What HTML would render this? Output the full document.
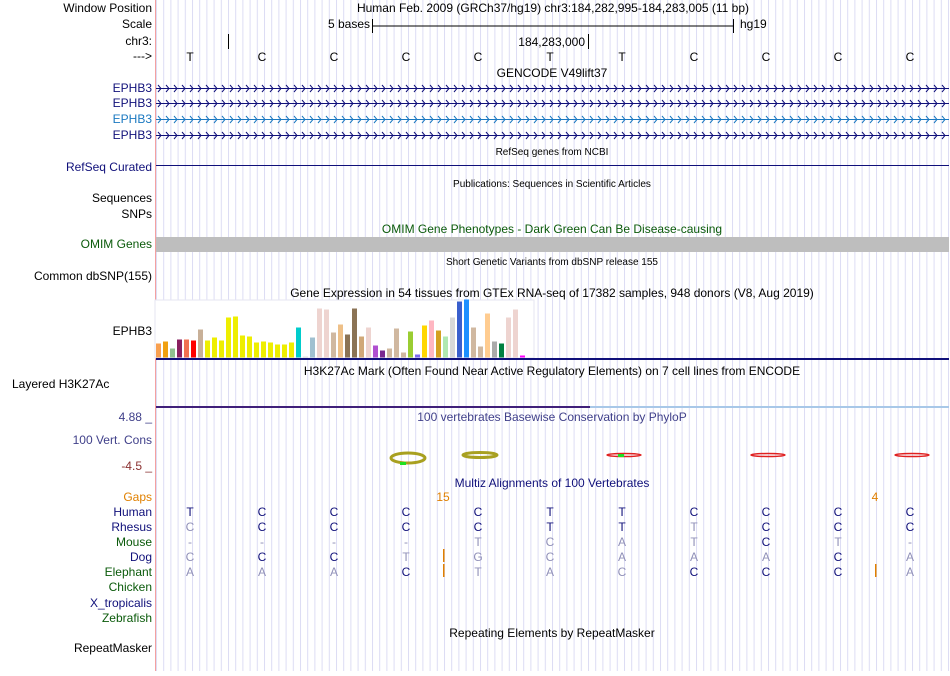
<!DOCTYPE html>
<html><head><meta charset="utf-8"><style>
body{margin:0;background:#fff}
svg text{font-family:"Liberation Sans",sans-serif}
</style></head><body>
<svg width="950" height="671" xmlns="http://www.w3.org/2000/svg">
<defs>
<pattern id="grid" x="156" y="0" width="7.2" height="671" patternUnits="userSpaceOnUse"><rect x="0" y="0" width="1" height="671" fill="#dcdcf4"/></pattern>
</defs>
<rect x="156" y="0" width="794" height="671" fill="url(#grid)"/>
<rect x="155" y="0" width="1" height="671" fill="#f4a0a0"/>
<g id="labels" font-size="12" text-anchor="end"></g>
<g id="tracks"></g>
</svg>
<script>
const NS="http://www.w3.org/2000/svg";
const L=document.getElementById('labels'), T=document.getElementById('tracks');
function el(tag,attrs,parent,txt){const e=document.createElementNS(NS,tag);for(const k in attrs)e.setAttribute(k,attrs[k]);if(txt!==undefined)e.textContent=txt;(parent||T).appendChild(e);return e;}
const labelTexts=["Window Position","Scale","chr3:","--->","EPHB3","EPHB3","EPHB3","EPHB3","RefSeq Curated","Sequences","SNPs","OMIM Genes","Common dbSNP(155)","EPHB3","100 Vert. Cons","Gaps","Human","Rhesus","Mouse","Dog","Elephant","Chicken","X_tropicalis","Zebrafish","RepeatMasker"];
const labelY=[12,28,45,60,92,107,123,139,171,202,218,248,280,335,444,501,516,531,546,561,576,591,607,622,652];
const labelCol=["#000","#000","#000","#000","#10107a","#10107a","#1a78c0","#10107a","#10107a","#000","#000","#0a5a0a","#000","#000","#40408a","#e08000","#10107a","#10107a","#0a5a0a","#10107a","#0a5a0a","#0a5a0a","#10107a","#0a5a0a","#000"];
for(let i=0;i<labelTexts.length;i++){
  const t=el('text',{x:152,y:labelY[i],fill:labelCol[i]},L,labelTexts[i]);
  
  
}
const lh=el('text',{x:12,y:388,'font-size':12,fill:'#000'},T,'Layered H3K27Ac');


const titles=[["Human Feb. 2009 (GRCh37/hg19)   chr3:184,282,995-184,283,005 (11 bp)",553,12,12,"#000"],["GENCODE V49lift37",552,77,12,"#000"],["RefSeq genes from NCBI",552,155,10,"#000"],["Publications: Sequences in Scientific Articles",552,187,10,"#000"],["OMIM Gene Phenotypes - Dark Green Can Be Disease-causing",552,233,12,"#0a5a0a"],["Short Genetic Variants from dbSNP release 155",552,265,10,"#000"],["Gene Expression in 54 tissues from GTEx RNA-seq of 17382 samples, 948 donors (V8, Aug 2019)",552,297,12,"#000"],["H3K27Ac Mark (Often Found Near Active Regulatory Elements) on 7 cell lines from ENCODE",552,375,12,"#000"],["100 vertebrates Basewise Conservation by PhyloP",552,421,12,"#40408a"],["Multiz Alignments of 100 Vertebrates",552,487,12,"#10107a"],["Repeating Elements by RepeatMasker",552,637,12,"#000"]];
titles.forEach(d=>{const t=el('text',{x:d[1],y:d[2],'font-size':d[3],fill:d[4],'text-anchor':'middle'},T,d[0]);});
el('text',{x:370,y:28,'font-size':12,'text-anchor':'end'},T,'5 bases');
el('path',{d:'M372.5,19V33M372.5,26H733M733.5,19V33',stroke:'#000',fill:'none'},T);
el('text',{x:740,y:28,'font-size':12},T,'hg19');
el('path',{d:'M228.5,34V49M588.5,34V49',stroke:'#000'},T);
el('text',{x:585,y:46,'font-size':12,'text-anchor':'end'},T,'184,283,000');
const refX=[190,262,334,406,478,550,622,694,766,838,910];
const ref=["T","C","C","C","C","T","T","C","C","C","C"];
ref.forEach((b,i)=>{const t=el('text',{x:refX[i],y:61,'font-size':12,'text-anchor':'middle'},T,b);});
[[88,"#10107a"],[103,"#10107a"],[119,"#1a78c0"],[135,"#10107a"]].forEach(g=>{
  const gg=el('g',{},T);
  el('rect',{x:156,y:g[0],width:793,height:1,fill:g[1]},gg);
  let d='';
  for(let x=158;x<946;x+=8){d+='M'+x+','+(g[0]-3)+'L'+(x+3)+','+(g[0]+0.5)+'L'+x+','+(g[0]+4);}
  el('path',{d:d,fill:'none',stroke:g[1],'stroke-width':1},gg);
});
el('rect',{x:156,y:165,width:793,height:1,fill:'#10107a'},T);
const om=el('rect',{x:156,y:237,width:793,height:15,fill:'#bebebe'},T);
</script>
<script>
// GTEx chart data
const tissueHeights=[14,16,9,18,18,17,28,17,20,17,40,41,22,21,15,16,15,13,13,15,30,1,20,49,48,25,33,23,49,21,30,12,7,9,29,5,26,3,32,37,27,21,40,56,58,30,11,44,16,14,40,48,2];
const tissueColors=["#f8a050","#f0a010","#90c090","#8a2060","#f07050","#ff0000","#c8b098","#eeee00","#eeee00","#eeee00","#eeee00","#eeee00","#eeee00","#eeee00","#eeee00","#eeee00","#eeee00","#eeee00","#eeee00","#eeee00","#00cccc","#e0e0e0","#a0c0d0","#eed4d0","#eed4d0","#d0b8a0","#eec088","#8b7355","#8b7355","#d0a878","#eed4d0","#b050d0","#7a2890","#d0b8a0","#d0b8a0","#d0b8a0","#9acd32","#7b68ee","#ffd700","#ffb6c1","#d4a020","#b0e8b0","#d8d8d8","#3a5fcd","#1e90ff","#d0b8a0","#d0b8a0","#ffcc90","#aaaaaa","#008040","#eed4d0","#eed4d0","#ff00ff"];
const G=document.getElementById('tracks');
const gBase=357.5, gLeft=156, gStep=7, gScale=1.0;
const xPos=i=>gLeft+i*gStep;
const yH=v=>v*gScale;
const gbox=document.createElementNS(NS,'rect');
gbox.setAttribute('x',155);gbox.setAttribute('y',300);gbox.setAttribute('width',379);gbox.setAttribute('height',58);gbox.setAttribute('fill','#fff');gbox.setAttribute('stroke','#e6e6f2');


G.appendChild(gbox);
tissueHeights.forEach((h,i)=>{
  const r=document.createElementNS(NS,'rect');
  r.setAttribute('x',xPos(i));r.setAttribute('y',gBase-yH(h));r.setAttribute('width',5);r.setAttribute('height',yH(h));r.setAttribute('fill',tissueColors[i]);
  
  
  G.appendChild(r);
});
function R(x,y,w,h,f,name){const r=document.createElementNS(NS,'rect');r.setAttribute('x',x);r.setAttribute('y',y);r.setAttribute('width',w);r.setAttribute('height',h);r.setAttribute('fill',f);


G.appendChild(r);}
R(156,358,793,2,'#10107a','gtex-gene-line');
R(156,406,434,2,'#40207a','h3k27ac-line-dark');
R(590,406,359,2,'#a8c8e8','h3k27ac-line-light');
function TX(x,y,s,c,t,a,name){const e=document.createElementNS(NS,'text');e.setAttribute('x',x);e.setAttribute('y',y);e.setAttribute('font-size',s);e.setAttribute('fill',c);if(a)e.setAttribute('text-anchor',a);e.textContent=t;


G.appendChild(e);}
TX(152,421,12,'#40408a','4.88 _','end','y-max-label');
TX(152,470,12,'#8a3030','-4.5 _','end','y-min-label');
const consX=[408,480,624,768,912];
consX.forEach((x,i)=>{
  const e=document.createElementNS(NS,'ellipse');
  e.setAttribute('cx',x);e.setAttribute('cy',i==0?458:455);e.setAttribute('rx',17);e.setAttribute('ry',i==0?5:(i==1?2.5:1.5));
  e.setAttribute('fill','none');e.setAttribute('stroke',i<2?'#a8a020':'#e02020');e.setAttribute('stroke-width',i<2?3:1.5);
  
  
  G.appendChild(e);
});
R(400,462,6,3,'#20e020','phylop-green');R(618,454,6,3,'#20e020','phylop-green');
TX(443,501,12,'#e08000','15','middle','gap-count');TX(875,501,12,'#e08000','4','middle','gap-count');
const colX=[190,262,334,406,478,550,622,694,766,838,910];
const species=[["T","C","C","C","C","T","T","C","C","C","C"],["C","C","C","C","C","T","T","T","C","C","C"],["-","-","-","-","T","C","A","T","C","T","-"],["C","C","C","T","G","C","A","A","A","C","A"],["A","A","A","C","T","A","C","C","C","C","A"]];
const dark=[[1,1,1,1,1,1,1,1,1,1,1],[0,1,1,1,1,1,1,0,1,1,1],[0,0,0,0,0,0,0,0,1,0,0],[0,1,1,0,0,0,0,0,0,1,0],[0,0,0,1,0,0,0,1,1,1,0]];
const rowY=[516,531,546,561,576];
species.forEach((row,r)=>row.forEach((b,i)=>TX(colX[i],rowY[r],12,dark[r][i]?'#10107a':'#9090b8',b,'middle','aligned-base')));
R(443,549,1.5,13,'#e08000','gap-mark');R(443,564,1.5,13,'#e08000','gap-mark');R(875,564,1.5,13,'#e08000','gap-mark');
</script>
</body></html>
